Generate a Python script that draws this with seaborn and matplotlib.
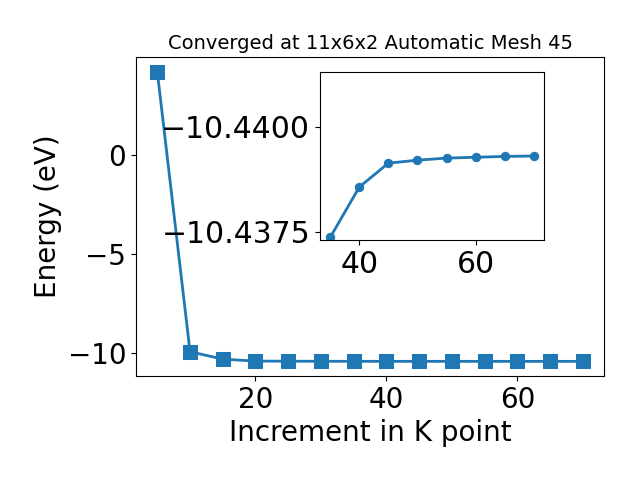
import matplotlib
matplotlib.use('Agg')
import matplotlib.pyplot as plt
import matplotlib.ticker as mticker
import seaborn as sns
import numpy as np

# k-point increments and total energies (eV)
kpoints = [5, 10, 15, 20, 25, 30, 35, 40, 45, 50, 55, 60, 65, 70]
energy = [4.19, -9.95, -10.33, -10.425, -10.432, -10.436, -10.43736,
          -10.43856, -10.43913, -10.4392, -10.43925, -10.43927,
          -10.43929, -10.4393]

# zoomed region for the inset
inset_k = kpoints[6:]
inset_e = energy[6:]

fig = plt.figure(figsize=(6.4, 4.8), dpi=100)
ax = fig.add_axes([0.2125, 0.217, 0.7315, 0.664])
sns.lineplot(x=kpoints, y=energy, marker='s', markersize=10, linewidth=2,
             color='#1f77b4', markeredgecolor='#1f77b4', ax=ax)
ax.set_title('Converged at 11x6x2 Automatic Mesh 45', fontsize=14)
ax.set_xlabel('Increment in K point', fontsize=20)
ax.set_ylabel('Energy (eV)', fontsize=20)
ax.tick_params(labelsize=20)

ins = fig.add_axes([0.5, 0.5, 0.35, 0.35])
sns.lineplot(x=inset_k, y=inset_e, marker='o', markersize=6, linewidth=2,
             color='#1f77b4', markeredgecolor='#1f77b4', ax=ins)
ins.set_ylim(-10.4373, -10.4413)
ins.set_yticks([-10.4400, -10.4375])
ins.yaxis.set_major_formatter(
    mticker.FuncFormatter(lambda v, p: ('%.4f' % v).replace('-', '\u2212')))
ins.set_xticks([40, 60])
ins.tick_params(labelsize=21.5)

plt.savefig('out.png')
plt.close('all')
